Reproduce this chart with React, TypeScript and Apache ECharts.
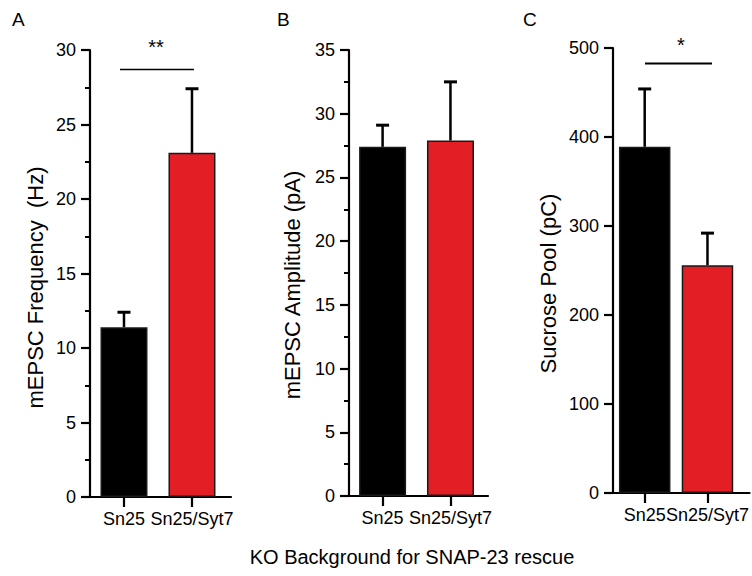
import React, { useEffect, useRef } from "react";
import * as echarts from "echarts";

const categories = ["Sn25", "Sn25/Syt7"];
const freqMean = [11.4, 23.1];
const freqSem = [1.0, 4.3];
const ampMean = [27.4, 27.9];
const ampSem = [1.7, 4.6];
const poolMean = [389, 256];
const poolSem = [65, 36];
const barColors = ["#000000", "#e31e24"];
const yTitles = ["mEPSC Frequency  (Hz)", "mEPSC Amplitude (pA)", "Sucrose Pool (pC)"];
const panelLetters = ["A", "B", "C"];
const xTitle = "KO Background for SNAP-23 rescue";

const FONT = "'Liberation Sans', Arial, Helvetica, sans-serif";

export default function App() {
  const ref = useRef<HTMLDivElement>(null);
  useEffect(() => {
    if (!ref.current) return;
    const chart = echarts.init(ref.current, null, { renderer: "svg" });

    const grids = [
      { left: 90, top: 50, width: 141, height: 447 },
      { left: 349, top: 50, width: 139, height: 446 },
      { left: 613, top: 48, width: 142, height: 445 },
    ];
    const xRanges = [
      [0.5, 2.574],
      [0.505, 2.553],
      [0.495, 2.67],
    ];
    const yCfg = [
      { max: 30, interval: 5, minor: true },
      { max: 35, interval: 5, minor: true },
      { max: 500, interval: 100, minor: false },
    ];
    const means = [freqMean, ampMean, poolMean];
    const sems = [freqSem, ampSem, poolSem];
    const barWidths = [47, 47, 51.5];

    const xAxis = grids.map((_, i) => ({
      type: "value",
      gridIndex: i,
      min: xRanges[i][0],
      max: xRanges[i][1],
      splitLine: { show: false },
      axisLine: { show: true, lineStyle: { color: "#000", width: 2.2 } },
      axisTick: {
        show: true,
        customValues: [1, 2],
        length: 10,
        lineStyle: { color: "#000", width: 2.2 },
      },
      axisLabel: {
        customValues: [1, 2],
        formatter: (v: number) => categories[Math.round(v) - 1] ?? "",
        margin: 13,
        fontSize: 18,
        color: "#000",
        fontFamily: FONT,
      },
    }));

    const yAxis = grids.map((_, i) => ({
      type: "value",
      gridIndex: i,
      min: 0,
      max: yCfg[i].max,
      interval: yCfg[i].interval,
      splitLine: { show: false },
      axisLine: { show: true, lineStyle: { color: "#000", width: 2.2 } },
      axisTick: { show: true, length: 9, lineStyle: { color: "#000", width: 2.2 } },
      minorTick: {
        show: yCfg[i].minor,
        splitNumber: 2,
        length: 5,
        lineStyle: { color: "#000", width: 2 },
      },
      minorSplitLine: { show: false },
      axisLabel: {
        margin: 14,
        fontSize: 18,
        color: "#000",
        fontFamily: FONT,
      },
    }));

    const series: any[] = [];
    grids.forEach((_, i) => {
      series.push({
        type: "bar",
        xAxisIndex: i,
        yAxisIndex: i,
        barWidth: barWidths[i],
        data: means[i].map((m, j) => ({
          value: [j + 1, m],
          itemStyle: {
            color: barColors[j],
            borderColor: "#1a1a1a",
            borderWidth: 1.5,
          },
        })),
        z: 2,
      });
      series.push({
        type: "custom",
        xAxisIndex: i,
        yAxisIndex: i,
        z: 3,
        clip: false,
        data: means[i].map((m, j) => [j + 1, m, sems[i][j]]),
        renderItem: (params: any, api: any) => {
          const x = api.value(0);
          const m = api.value(1);
          const e = api.value(2);
          const base = api.coord([x, m]);
          const top = api.coord([x, m + e]);
          return {
            type: "group",
            children: [
              {
                type: "line",
                shape: { x1: base[0], y1: base[1], x2: top[0], y2: top[1] },
                style: { stroke: "#000", lineWidth: 2.5 },
              },
              {
                type: "line",
                shape: { x1: top[0] - 6.5, y1: top[1], x2: top[0] + 6.5, y2: top[1] },
                style: { stroke: "#000", lineWidth: 3 },
              },
            ],
          };
        },
      });
    });

    const titleCenters = [
      [35, 287.5],
      [292, 285],
      [548, 283.5],
    ];
    const letterPos = [12, 277, 523];

    const graphic: any[] = [];
    titleCenters.forEach((c, i) => {
      graphic.push({
        type: "text",
        x: c[0],
        y: c[1],
        rotation: Math.PI / 2,
        style: {
          text: yTitles[i],
          fontSize: 22,
          fontFamily: FONT,
          fill: "#000",
          textAlign: "center",
          textVerticalAlign: "middle",
        },
      });
    });
    letterPos.forEach((x, i) => {
      graphic.push({
        type: "text",
        x,
        y: 19,
        style: {
          text: panelLetters[i],
          fontSize: 19,
          fontFamily: FONT,
          fill: "#000",
          textAlign: "left",
          textVerticalAlign: "middle",
        },
      });
    });
    graphic.push({
      type: "text",
      x: 412,
      y: 557,
      style: {
        text: xTitle,
        fontSize: 20,
        fontFamily: FONT,
        fill: "#000",
        textAlign: "center",
        textVerticalAlign: "middle",
      },
    });
    // significance annotations
    graphic.push({
      type: "line",
      shape: { x1: 120, y1: 69.5, x2: 194, y2: 69.5 },
      style: { stroke: "#000", lineWidth: 1.3 },
    });
    graphic.push({
      type: "text",
      x: 156,
      y: 47,
      style: {
        text: "**",
        fontSize: 20,
        fontFamily: FONT,
        fill: "#000",
        textAlign: "center",
        textVerticalAlign: "middle",
      },
    });
    graphic.push({
      type: "line",
      shape: { x1: 645, y1: 63.5, x2: 712, y2: 63.5 },
      style: { stroke: "#000", lineWidth: 2.2 },
    });
    graphic.push({
      type: "text",
      x: 681,
      y: 45,
      style: {
        text: "*",
        fontSize: 20,
        fontFamily: FONT,
        fill: "#000",
        textAlign: "center",
        textVerticalAlign: "middle",
      },
    });

    chart.setOption({
      animation: false,
      backgroundColor: "#fff",
      grid: grids.map((g) => ({ ...g, containLabel: false })),
      xAxis,
      yAxis,
      series,
      graphic,
    });
    return () => chart.dispose();
  }, []);
  return (
    <div
      ref={ref}
      style={{ position: "fixed", left: 0, top: 0, width: 752, height: 576 }}
    />
  );
}
